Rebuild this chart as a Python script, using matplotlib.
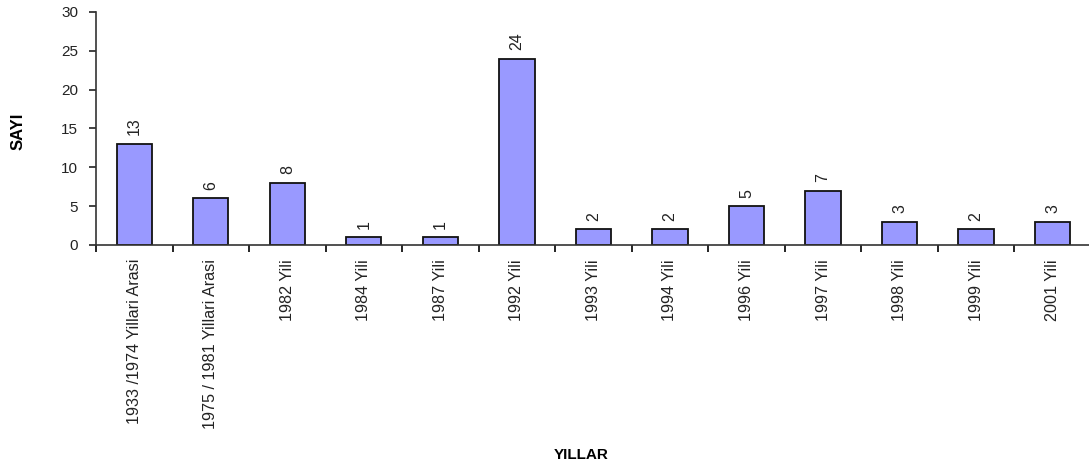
import matplotlib.pyplot as plt
import numpy as np

categories = ['1933 /1974 Yillari Arasi', '1975 / 1981 Yillari Arasi', '1982 Yili',
              '1984 Yili', '1987 Yili', '1992 Yili', '1993 Yili', '1994 Yili',
              '1996 Yili', '1997 Yili', '1998 Yili', '1999 Yili', '2001 Yili']
counts = [13, 6, 8, 1, 1, 24, 2, 2, 5, 7, 3, 2, 3]

plt.rcParams['font.family'] = ['Liberation Sans', 'DejaVu Sans']

fig = plt.figure(figsize=(10.89, 4.68), dpi=100)
ax = fig.add_axes([0.0882, 0.4765, 0.9135, 0.498])

x = np.arange(len(categories))
bars = ax.bar(x, counts, width=0.46, color='#9999ff', edgecolor='#111111', linewidth=1.3)

for xi, v in zip(x, counts):
    ax.text(xi, v + 1.1, str(v), rotation=90, ha='center', va='bottom', fontsize=11.5, color='#222222')

ax.set_xlim(-0.5, len(categories) - 0.5)
ax.set_ylim(0, 30)
ax.set_yticks(range(0, 31, 5))
ax.set_xticks(np.arange(-0.5, len(categories), 1.0))
ax.set_xticklabels([])
ax.set_xticks(x, minor=True)
ax.set_xticklabels(categories, minor=True, rotation=90, fontsize=11.6, color='#222222', va='top')
ax.tick_params(axis='x', which='minor', length=0, pad=10)
ax.tick_params(axis='x', which='major', length=5, width=1.2, direction='out')
ax.tick_params(axis='y', length=5, width=1.2, labelsize=11, pad=8, colors='#222222')

for s in ['top', 'right']:
    ax.spines[s].set_visible(False)
for s in ['left', 'bottom']:
    ax.spines[s].set_linewidth(1.2)
    ax.spines[s].set_color('#333333')

fig.text(0.017, 0.72, 'SAYI', rotation=90, ha='center', va='center',
         fontsize=12, fontweight='bold')
fig.text(0.534, 0.028, 'YILLAR', ha='center', va='center',
         fontsize=11, fontweight='bold')

fig.savefig('out.png', dpi=100)
